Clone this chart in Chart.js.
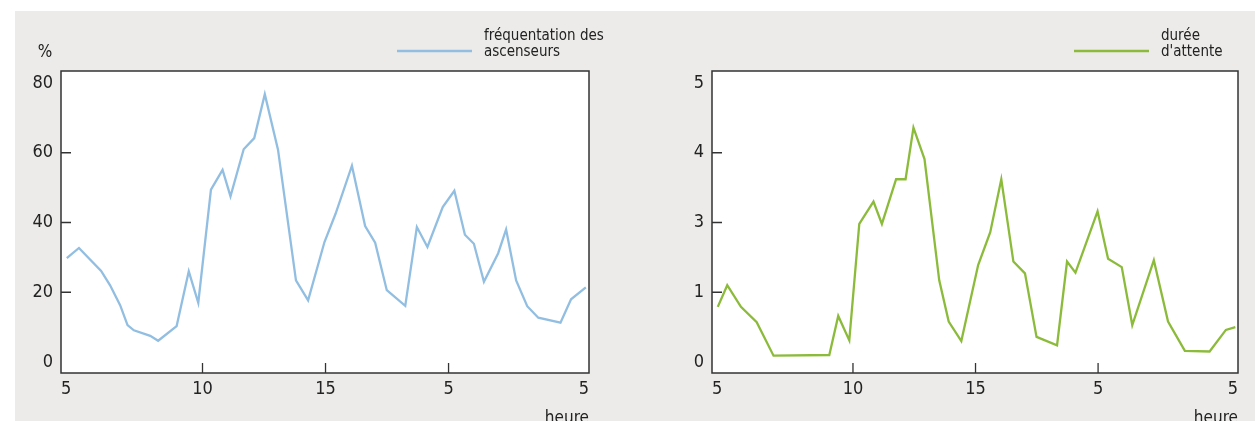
<!DOCTYPE html>
<html>
<head>
<meta charset="utf-8">
<script src="https://cdn.jsdelivr.net/npm/chart.js@4.4.1/dist/chart.umd.min.js"></script>
<style>
html, body { margin: 0; padding: 0; background: #fff; }
#wrap { position: relative; width: 1255px; height: 421px; overflow: hidden; }
#bg { position: absolute; left: 15px; top: 11px; right: 0; bottom: 0; background: #ecebe9; }
canvas { position: absolute; top: 0; }
#c1 { left: 0; }
#c2 { left: 627px; }
</style>
</head>
<body>
<div id="wrap">
  <div id="bg"></div>
  <canvas id="c1" width="627" height="421"></canvas>
  <canvas id="c2" width="628" height="421"></canvas>
</div>
<script>
// time axis: position of each point in % of the axis width
var xTickPos = [0, 26.8, 50.1, 73.4, 100];
var xTickLabels = ['5', '10', '15', '5', '5'];

// left chart: fréquentation des ascenseurs (%)
var posFreq = [1.1, 3.4, 7.6, 9.3, 11.2, 12.6, 13.8, 16.9, 18.4, 21.9, 24.2, 26.0, 28.4, 30.6, 32.1,
    34.6, 36.6, 38.6, 41.1, 44.5, 46.8, 49.9, 52.0, 55.1, 57.6, 59.5, 61.7, 65.2, 67.4, 69.4,
    72.3, 74.5, 76.5, 78.2, 80.1, 82.8, 84.3, 86.2, 88.3, 90.4, 94.6, 96.6, 99.4];
var frequentation = [29.8, 32.7, 26.1, 22.0, 16.3, 10.6, 9.1, 7.5, 6.1, 10.3, 26.0, 17.0, 49.4, 55.1, 47.5,
    61.0, 64.2, 76.8, 60.9, 23.4, 17.7, 34.4, 42.5, 56.3, 39.0, 34.2, 20.6, 16.1, 38.7, 33.0,
    44.4, 49.1, 36.5, 33.9, 23.0, 31.2, 38.0, 23.4, 16.0, 12.7, 11.3, 18.0, 21.4];
var yTicksFreq = [0, 20, 40, 60, 80];

// right chart: durée d'attente (value = position of the tick row, labels as printed)
var posWait = [1.1, 2.9, 5.5, 8.5, 11.7, 22.3, 24.0, 26.1, 28.0, 30.7, 32.3, 35.0, 36.8, 38.3, 40.4,
    43.2, 45.0, 47.4, 50.6, 52.9, 55.0, 57.3, 59.5, 61.7, 65.6, 67.5, 69.1, 73.3, 75.3, 77.9,
    79.9, 84.0, 86.7, 89.9, 94.6, 97.7, 99.5];
var attente = [0.79, 1.10, 0.79, 0.57, 0.09, 0.10, 0.66, 0.31, 1.98, 2.30, 1.98, 2.62, 2.62, 3.36, 2.91,
    1.17, 0.58, 0.30, 1.39, 1.86, 2.62, 1.44, 1.27, 0.36, 0.24, 1.44, 1.28, 2.16, 1.48, 1.36,
    0.53, 1.46, 0.58, 0.16, 0.15, 0.46, 0.50];
var yTicksWait = [0, 1, 2, 3, 4];
var yLabelsWait = ['0', '1', '3', '4', '5'];

function hasFont(name) {
    var c = document.createElement('canvas').getContext('2d');
    var s = 'fréquentation des 0123456789';
    c.font = '16px monospace';
    var a = c.measureText(s).width;
    c.font = '16px "' + name + '", monospace';
    return c.measureText(s).width !== a;
}
var family = 'Liberation Sans';
['Liberation Sans Narrow', 'DejaVu Sans Condensed'].some(function (f) {
    if (hasFont(f)) { family = '"' + f + '", "Liberation Sans"'; return true; }
    return false;
});
Chart.defaults.font.family = family;
Chart.defaults.color = '#222';

var frame = {
    id: 'frame',
    beforeDraw: function (chart) {
        var a = chart.chartArea, ctx = chart.ctx;
        ctx.save();
        ctx.fillStyle = '#fff';
        ctx.fillRect(a.left, a.top, a.right - a.left, a.bottom - a.top);
        ctx.restore();
    },
    afterDraw: function (chart, args, o) {
        var a = chart.chartArea, ctx = chart.ctx;
        var xs = chart.scales.x, ys = chart.scales.y;
        ctx.save();
        ctx.strokeStyle = '#333';
        ctx.lineWidth = 1.5;
        ctx.strokeRect(a.left, a.top, a.right - a.left, a.bottom - a.top);
        ctx.lineWidth = 1.3;
        ctx.beginPath();
        o.xMarks.forEach(function (v) {
            var px = xs.getPixelForValue(v);
            ctx.moveTo(px, a.bottom);
            ctx.lineTo(px, a.bottom - 10);
        });
        o.yMarks.forEach(function (v) {
            var py = ys.getPixelForValue(v);
            ctx.moveTo(a.left, py);
            ctx.lineTo(a.left + 10, py);
        });
        ctx.stroke();

        // legend
        ctx.strokeStyle = o.color;
        ctx.lineWidth = 2.3;
        ctx.beginPath();
        ctx.moveTo(o.lineX[0], 51);
        ctx.lineTo(o.lineX[1], 51);
        ctx.stroke();
        ctx.fillStyle = '#222';
        ctx.font = '15px ' + family;
        ctx.textBaseline = 'middle';
        ctx.textAlign = 'left';
        ctx.fillText(o.legend[0], o.textX, 36.5);
        ctx.fillText(o.legend[1], o.textX, 52.5);
        if (o.unit) {
            ctx.font = '17px ' + family;
            ctx.textAlign = 'center';
            ctx.fillText(o.unit, 45, 53);
        }
        ctx.restore();
    }
};

function makeChart(id, xs, ys, color, yMin, yMax, yTicks, yLabel, yWidth, padRight, pluginOpts) {
    var pts = xs.map(function (x, i) { return { x: x, y: ys[i] }; });
    return new Chart(document.getElementById(id), {
        type: 'line',
        data: {
            datasets: [{
                data: pts,
                borderColor: color,
                borderWidth: 2.3,
                pointRadius: 0,
                tension: 0,
                fill: false
            }]
        },
        options: {
            responsive: false,
            animation: false,
            layout: { padding: { left: 0, top: 71, right: padRight, bottom: 0 } },
            plugins: {
                legend: { display: false },
                tooltip: { enabled: false },
                frame: pluginOpts
            },
            scales: {
                x: {
                    type: 'linear',
                    min: 0,
                    max: 100,
                    afterBuildTicks: function (s) { s.ticks = xTickPos.map(function (v) { return { value: v }; }); },
                    afterFit: function (s) { s.height = 48; },
                    grid: { display: false, drawTicks: false },
                    border: { display: false },
                    ticks: {
                        align: 'inner',
                        padding: 6,
                        autoSkip: false,
                        maxRotation: 0,
                        font: { size: 18 },
                        callback: function (v, i) { return xTickLabels[i]; }
                    },
                    title: {
                        display: true,
                        text: 'heure',
                        align: 'end',
                        font: { size: 17, lineHeight: 1 },
                        padding: { top: 0, bottom: -6.5 }
                    }
                },
                y: {
                    min: yMin,
                    max: yMax,
                    afterBuildTicks: function (s) { s.ticks = yTicks.map(function (v) { return { value: v }; }); },
                    afterFit: function (s) { s.width = yWidth; },
                    grid: { display: false, drawTicks: false },
                    border: { display: false },
                    ticks: {
                        padding: 8,
                        font: { size: 18 },
                        callback: yLabel
                    }
                }
            }
        },
        plugins: [frame]
    });
}

makeChart('c1', posFreq, frequentation, '#92bee1', -3.15, 83.44, yTicksFreq,
    function (v) { return String(v); }, 61, 38,
    { color: '#92bee1', legend: ['fréquentation des', 'ascenseurs'], lineX: [397, 472], textX: 484,
      unit: '%', xMarks: [26.8, 50.1, 73.4], yMarks: [20, 40, 60] });

makeChart('c2', posWait, attente, '#8cbb3c', -0.158, 4.172, yTicksWait,
    function (v, i) { return yLabelsWait[i]; }, 85, 17,
    { color: '#8cbb3c', legend: ['durée', "d'attente"], lineX: [447, 522], textX: 534,
      unit: null, xMarks: [26.8, 50.1, 73.4], yMarks: [1, 2, 3] });
</script>
</body>
</html>
